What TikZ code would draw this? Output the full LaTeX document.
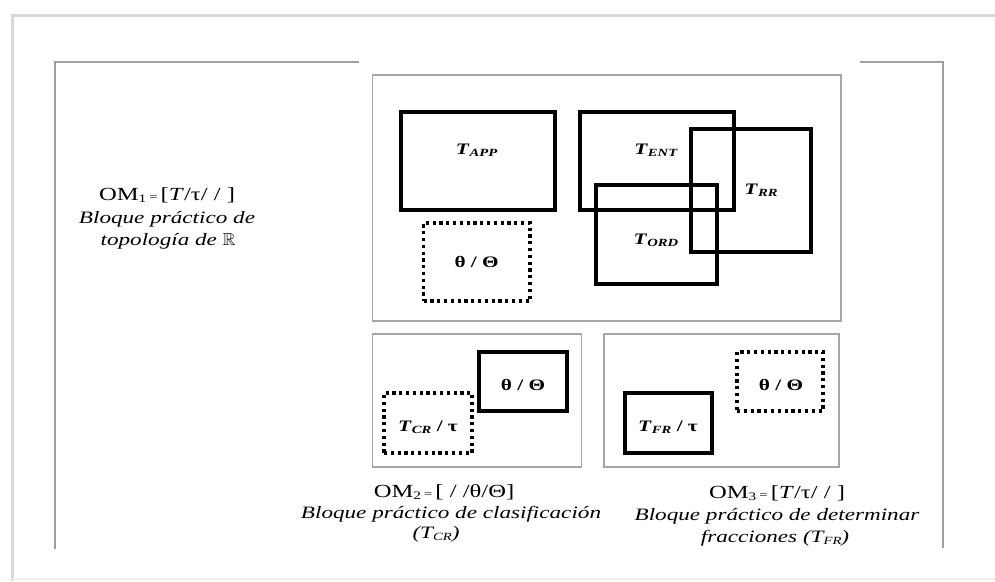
\documentclass[tikz,border=0pt]{standalone}
\usepackage{amssymb}
\usepackage{fontspec}
\setmainfont[FakeStretch=1.33]{Liberation Serif}

% small lowered index, as in OM_1
\newcommand\omidx[1]{\raisebox{-0.3ex}{\fontsize{11.5}{11.5}\selectfont #1}}
% task symbol: italic T with a small italic capital index
\newcommand\task[2]{\textit{#1}\raisebox{-0.25ex}{\fontsize{11}{11}\selectfont\textit{#2}}}
\newcommand\smalleq{{\fontsize{11}{11}\selectfont =}}

\begin{document}
\begin{tikzpicture}[x=1pt,y=-1pt,
  framepart/.style={draw=gray!75, line width=1.7},
  block/.style={draw=gray!70, line width=1.5, rectangle, inner sep=0pt},
  tbox/.style={draw=black, line width=3.2, rectangle, inner sep=0pt},
  dbox/.style={draw=black, line width=3.3, dash pattern=on 3.2pt off 3.6pt, rectangle, inner sep=0pt},
  lbl/.style={font=\fontsize{16}{19}\selectfont\bfseries, inner sep=0pt},
  capline/.style={font=\fontsize{18.5}{22}\selectfont, inner sep=0pt, anchor=base},
  capit/.style={capline, font=\fontsize{17.4}{21}\selectfont\itshape}
]
\useasboundingbox (0,0) rectangle (995,581);

% sheet edge
\draw[gray!30, line width=3] (12,581) -- (12,15) -- (995,15);
\draw[gray!12, line width=1.5] (12,579) -- (995,579);

% open frame round the three blocks
\draw[framepart] (359,62) -- (55,62) -- (55,549);
\draw[framepart] (860,62) -- (943,62) -- (943,548);

% block of OM1
\node[block, minimum width=468.4, minimum height=246] (blk1) at (606.8,198) {};
\node[tbox, minimum width=154, minimum height=98] (tapp) at (478,161) {};
\node[dbox, minimum width=106.5, minimum height=78] (th1) at (476.75,262) {};
\node[tbox, minimum width=154, minimum height=98] (tent) at (657,161) {};
\node[tbox, minimum width=120, minimum height=123] (trr) at (751,190.5) {};
\node[tbox, minimum width=121, minimum height=99] (tord) at (656.5,234.5) {};
\node[lbl] (tapplbl) at (476.6,150) {\task{T}{APP}};
\node[lbl] (tentlbl) at (656,150) {\task{T}{ENT}};
\node[lbl] (trrlbl) at (761,190) {\task{T}{RR}};
\node[lbl] (tordlbl) at (656,240) {\task{T}{ORD}};
\node[lbl] (th1lbl) at (476.6,262) {θ / Θ};

% block of OM2
\node[block, minimum width=209, minimum height=133] (blk2) at (477.2,400.5) {};
\node[tbox, minimum width=88, minimum height=59] (th2) at (523,381.5) {};
\node[dbox, minimum width=88, minimum height=60] (tcr) at (428,423) {};
\node[lbl] (th2lbl) at (523,385) {θ / Θ};
\node[lbl] (tcrlbl) at (428,427) {\task{T}{CR} / τ};

% block of OM3
\node[block, minimum width=235, minimum height=133] (blk3) at (721.5,400.5) {};
\node[tbox, minimum width=87, minimum height=60] (tfr) at (668.5,423) {};
\node[dbox, minimum width=86, minimum height=59] (th3) at (780,381.5) {};
\node[lbl] (tfrlbl) at (668,427) {\task{T}{FR} / τ};
\node[lbl] (th3lbl) at (781,385) {θ / Θ};

% captions
\node[capline] (om1a) at (167,200) {OM\omidx{1}\,\smalleq\,[\textit{T}/τ/ / ]};
\node[capit] (om1b) at (167,223) {Bloque práctico de};
\node[capit] (om1c) at (168,245) {topología de $\mathbb{R}$};

\node[capline] (om2a) at (444,497) {OM\omidx{2}\,\smalleq\,[ / /θ/Θ]};
\node[capit] (om2b) at (451,518) {Bloque práctico de clasificación};
\node[capit] (om2c) at (436,538) {(\task{T}{CR})};

\node[capline] (om3a) at (777,498) {OM\omidx{3}\,\smalleq\,[\textit{T}/τ/ / ]};
\node[capit] (om3b) at (777,520) {Bloque práctico de determinar};
\node[capit] (om3c) at (775,542) {fracciones (\task{T}{FR})};
\end{tikzpicture}
\end{document}
